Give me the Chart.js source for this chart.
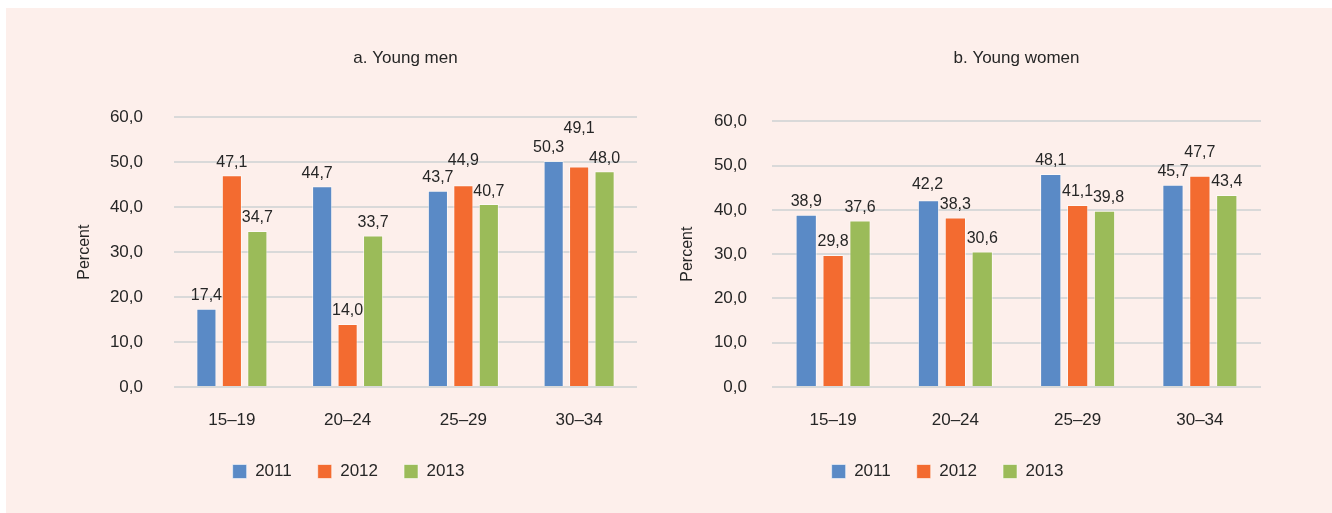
<!DOCTYPE html>
<html>
<head>
<meta charset="utf-8">
<script src="https://cdn.jsdelivr.net/npm/chart.js@4/dist/chart.umd.min.js"></script>
<style>
  html, body { margin: 0; padding: 0; background: #ffffff; }
  #frame { position: absolute; left: 6px; top: 8px; width: 1326px; height: 505px; background: #fdefeb; }
  #wrapA { position: absolute; left: 0; top: 0; width: 660px; height: 505px; }
  #wrapB { position: absolute; left: 660px; top: 0; width: 666px; height: 505px; }
</style>
</head>
<body>
<div id="frame">
  <div id="wrapA"><canvas id="chartA" width="660" height="505"></canvas></div>
  <div id="wrapB"><canvas id="chartB" width="666" height="505"></canvas></div>
</div>
<script>
// ---------- data ----------
const categories = ['15–19', '20–24', '25–29', '30–34'];
const seriesNames = ['2011', '2012', '2013'];
const menTitle = 'a. Young men';
const womenTitle = 'b. Young women';
const yAxisTitle = 'Percent';
const men2011 = [17.4, 44.7, 43.7, 50.3];
const men2012 = [47.1, 14.0, 44.9, 49.1];
const men2013 = [34.7, 33.7, 40.7, 48.0];
const women2011 = [38.9, 42.2, 48.1, 45.7];
const women2012 = [29.8, 38.3, 41.1, 47.7];
const women2013 = [37.6, 30.6, 39.8, 43.4];
const yTicks = [0, 10, 20, 30, 40, 50, 60];

// ---------- style ----------
const colors = ['#5a8ac6', '#f36b30', '#9bbb59'];
const textColor = '#262626';

function hasFont(name) {
  const c = document.createElement('canvas').getContext('2d');
  const t = 'Percent 2011 Young men 40,0';
  c.font = '40px monospace';
  const a = c.measureText(t).width;
  c.font = '40px "' + name + '", monospace';
  const b = c.measureText(t).width;
  return Math.abs(a - b) > 0.5;
}
let FONT, S;
if (hasFont('Liberation Sans Narrow')) { FONT = '"Liberation Sans Narrow", "Liberation Sans", sans-serif'; S = 1; }
else { FONT = '"Liberation Sans", Arial, sans-serif'; S = 0.84; }
const fTick = Math.round(20 * S), fLabel = Math.round(19 * S), fTitle = Math.round(20 * S), fLegend = Math.round(20 * S), fAxis = Math.round(19 * S);

Chart.defaults.font.family = FONT;
Chart.defaults.color = textColor;

const fmt = v => Number(v).toFixed(1).replace('.', ',');

const dataLabelPlugin = {
  id: 'dataLabels',
  afterDatasetsDraw(chart, args, opts) {
    const ctx = chart.ctx;
    ctx.save();
    ctx.font = fLabel + 'px ' + FONT;
    ctx.fillStyle = textColor;
    ctx.textAlign = 'center';
    ctx.textBaseline = 'middle';
    chart.data.datasets.forEach((ds, di) => {
      const meta = chart.getDatasetMeta(di);
      meta.data.forEach((bar, i) => {
        const n = (opts.nudge && opts.nudge[di + ':' + i]) || [0, 0];
        ctx.fillText(fmt(ds.data[i]), bar.x + n[0], bar.y - 13 - n[1]);
      });
    });
    ctx.restore();
  }
};

const legendShiftPlugin = {
  id: 'legendShift',
  afterLayout(chart, args, opts) {
    const lg = chart.legend;
    if (lg && opts.dx) { lg.left += opts.dx; lg.right += opts.dx; }
  }
};

function makeChart(id, title, series, cfg) {
  const datasets = series.map((d, i) => ({
    label: seriesNames[i],
    data: d,
    backgroundColor: colors[i],
    borderColor: 'rgba(255,255,255,0.55)',
    borderWidth: 1,
    categoryPercentage: 0.66,
    barPercentage: 0.79
  }));
  return new Chart(document.getElementById(id), {
    type: 'bar',
    data: { labels: categories, datasets },
    plugins: [dataLabelPlugin, legendShiftPlugin],
    options: {
      responsive: false,
      animation: false,
      layout: { padding: { left: 0, right: cfg.padRight, top: 0, bottom: 23 } },
      scales: {
        x: {
          grid: { display: false },
          border: { display: false },
          ticks: { font: { size: fTick }, padding: 15, color: textColor },
          afterFit: s => { s.height = 50; }
        },
        y: {
          min: 0, max: 60,
          afterBuildTicks: s => { s.ticks = yTicks.map(v => ({ value: v })); },
          grid: { color: '#d9d9d9', lineWidth: 2, drawTicks: false },
          border: { display: false },
          ticks: { font: { size: fTick }, padding: cfg.tickPad, color: textColor, callback: v => fmt(v) },
          title: { display: true, text: yAxisTitle, font: { size: fAxis }, color: textColor, padding: { top: cfg.axisTitlePad, bottom: 0 } },
          afterFit: s => { s.width = cfg.yWidth; }
        }
      },
      plugins: {
        title: {
          display: true, text: title, fullSize: false,
          font: { size: fTitle, weight: 'normal' }, color: textColor,
          padding: { top: 40, bottom: cfg.titleBottom }
        },
        legend: {
          position: 'bottom', fullSize: false,
          labels: { boxWidth: 14, boxHeight: 14, padding: 26, font: { size: fLegend }, color: textColor }
        },
        tooltip: { enabled: false },
        dataLabels: { nudge: cfg.nudge },
        legendShift: { dx: cfg.legendDx }
      }
    }
  });
}

makeChart('chartA', menTitle, [men2011, men2012, men2013], {
  padRight: 29, yWidth: 168, tickPad: 31, axisTitlePad: 69, titleBottom: 49, legendDx: -57,
  nudge: { '0:1': [-5, 0], '1:2': [0, 12], '1:3': [0, 25], '0:3': [-5, 0] }
});
makeChart('chartB', womenTitle, [women2011, women2012, women2013], {
  padRight: 71, yWidth: 106, tickPad: 25, axisTitlePad: 12, titleBottom: 53, legendDx: -69,
  nudge: { '1:3': [0, 10], '2:2': [4, 0], '0:1': [-1, 3] }
});
</script>
</body>
</html>
